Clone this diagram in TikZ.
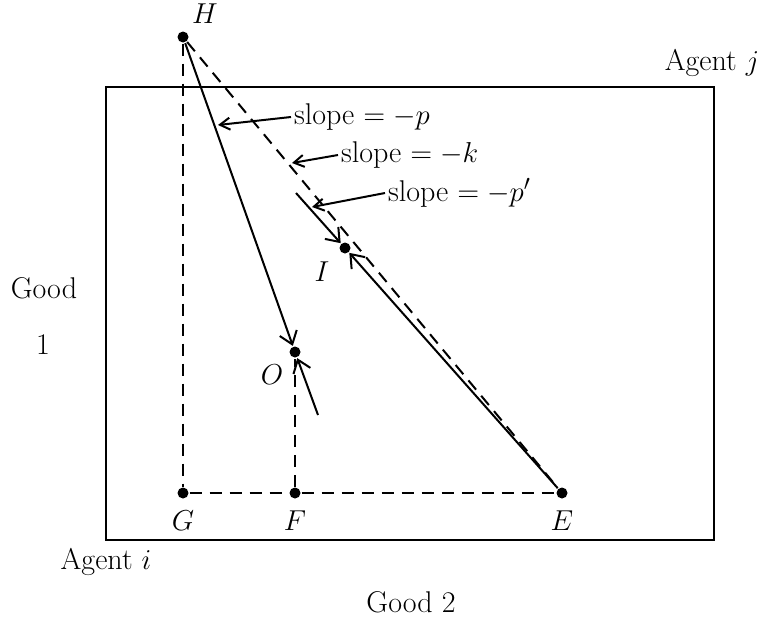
\documentclass[tikz,border=0pt]{standalone}
\usepackage{fontspec}
\usetikzlibrary{arrows.meta}
\begin{document}
\begin{tikzpicture}[x=0.5pt,y=-0.5pt,
  line width=1pt,
  dot/.style={circle,fill=black,inner sep=0pt,minimum size=5.5pt},
  lbl/.style={font=\fontsize{15}{18}\selectfont},
  dsh/.style={dash pattern=on 6pt off 4pt},
  tip/.style={-{Straight Barb[length=6pt,width=9pt]}},
  ptr/.style={-{Straight Barb[length=5pt,width=6pt]}}]
\useasboundingbox (0,0) rectangle (764,621);
% box
\node[draw,line width=1pt,minimum width=304pt,minimum height=226.5pt,inner sep=0pt] (box) at (410,313.5) {};
% points
\node[dot] (H) at (183,37) {};
\node[dot] (G) at (183,493) {};
\node[dot] (F) at (295,493) {};
\node[dot] (E) at (562,493) {};
\node[dot] (O) at (295,352) {};
\node[dot] (I) at (345,248) {};
\coordinate (Oend) at (318,415);
\coordinate (Istart) at (296,193);
% dashed lines
\draw[dsh] (H) -- (G);
\draw[dsh] (G) -- (F);
\draw[dsh] (F) -- (E);
\draw[dsh] (F) -- (O);
\draw[dsh] (H) -- (E);
% solid lines with arrows
\draw[tip] (H) -- (O);
\draw[tip] (Oend) -- (O);
\draw[tip] (Istart) -- (I);
\draw[tip] (E) -- (I);
% point labels
\node[lbl] (Hl) at (205,14) {$H$};
\node[lbl] (Gl) at (183,521) {$G$};
\node[lbl] (Fl) at (295,521) {$F$};
\node[lbl] (El) at (562,521) {$E$};
\node[lbl] (Ol) at (272,375) {$O$};
\node[lbl] (Il) at (322,272) {$I$};
% slope labels
\node[lbl,anchor=west,inner sep=1pt] (sp) at (291,117) {slope $= -p$};
\node[lbl,anchor=west,inner sep=1pt] (sk) at (338,155) {slope $= -k$};
\node[lbl,anchor=west,inner sep=1pt] (sq) at (385,193) {slope $= -p'$};
\coordinate (tp) at (218,125);
\coordinate (tk) at (292,163);
\coordinate (tq) at (312,207);
\draw[ptr] (sp.west) -- (tp);
\draw[ptr] (sk.west) -- (tk);
\draw[ptr] (sq.west) -- (tq);
% axis labels
\node[lbl] (aj) at (712,63) {Agent $j$};
\node[lbl] (ai) at (106,562) {Agent $i$};
\node[lbl] (g1) at (44,288) {Good};
\node[lbl] (g1n) at (43,345) {1};
\node[lbl] (g2) at (411,602) {Good 2};
\end{tikzpicture}
\end{document}
